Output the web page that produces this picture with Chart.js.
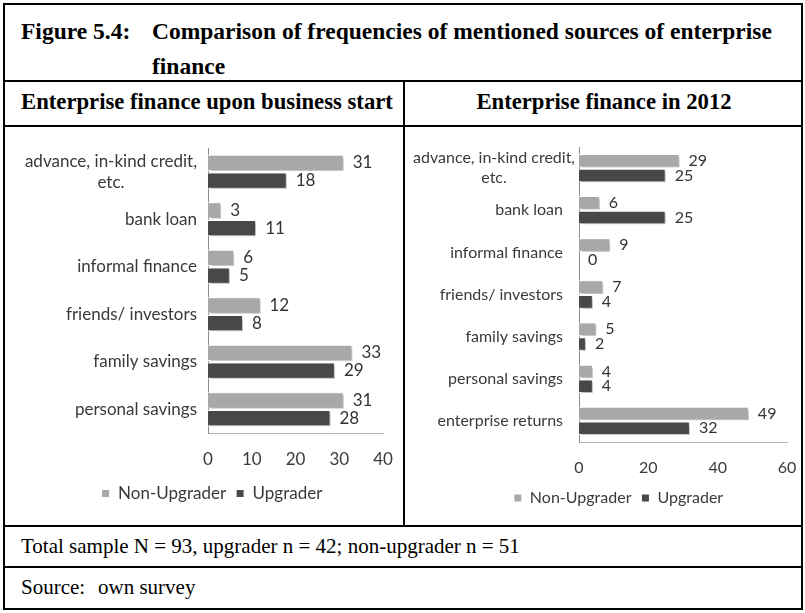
<!DOCTYPE html>
<html>
<head>
<meta charset="utf-8">
<script src="https://cdn.jsdelivr.net/npm/chart.js@4/dist/chart.umd.min.js"></script>
<style>
  body { margin: 0; background: #fff; width: 805px; height: 613px; position: relative; overflow: hidden; }
  .frame { position: absolute; left: 3px; top: 3px; width: 800px; height: 607px; border: 2px solid #000; box-sizing: border-box; }
  .hl { position: absolute; left: 3px; width: 800px; height: 2px; background: #000; }
  .vl { position: absolute; width: 2px; background: #000; }
  .serif { position: absolute; font-family: "Liberation Serif", "Times New Roman", serif; color: #000; white-space: nowrap; line-height: 1.15; }
  .bold { font-weight: bold; }
  .box { position: absolute; }
</style>
</head>
<body>
<div class="frame"></div>
<div class="hl" style="top:80px"></div>
<div class="hl" style="top:125px"></div>
<div class="hl" style="top:525px"></div>
<div class="hl" style="top:566px"></div>
<div class="vl" style="left:403px; top:80px; height:446px"></div>

<div class="serif bold" style="left:21px; top:18px; font-size:23.5px">Figure 5.4:</div>
<div class="serif bold" style="left:152px; top:14px; font-size:23.5px; line-height:35px">Comparison of frequencies of mentioned sources of enterprise<br>finance</div>

<div class="serif bold" style="left:21px; top:89px; font-size:22.7px">Enterprise finance upon business start</div>
<div class="serif bold" style="left:405px; width:398px; text-align:center; top:89px; font-size:22.7px">Enterprise finance in 2012</div>

<div class="serif" style="left:21px; top:534px; font-size:21px">Total sample N = 93, upgrader n = 42; non-upgrader n = 51</div>
<div class="serif" style="left:21px; top:575px; font-size:21px">Source:</div>
<div class="serif" style="left:98px; top:575px; font-size:21px">own survey</div>

<div class="box" style="left:5px; top:127px; width:398px; height:397px"><canvas id="chartStart"></canvas></div>
<div class="box" style="left:406px; top:127px; width:395px; height:397px"><canvas id="chart2012"></canvas></div>

<script>
// Enterprise finance upon business start
const catsStart = [['advance, in-kind credit,', 'etc.'], 'bank loan', 'informal finance', 'friends/ investors', 'family savings', 'personal savings'];
const nonUpStart = [31, 3, 6, 12, 33, 31];
const upStart = [18, 11, 5, 8, 29, 28];
const ticksStart = [0, 10, 20, 30, 40];

// Enterprise finance in 2012
const cats2012 = [['advance, in-kind credit,', 'etc.'], 'bank loan', 'informal finance', 'friends/ investors', 'family savings', 'personal savings', 'enterprise returns'];
const nonUp2012 = [29, 6, 9, 7, 5, 4, 49];
const up2012 = [25, 25, 0, 4, 2, 4, 32];
const ticks2012 = [0, 20, 40, 60];

const seriesNames = ['Non-Upgrader', 'Upgrader'];
const seriesColors = ['#a8a8a8', '#484848'];

const textColor = '#3a3a3a';

// soft shadow under the bars + value labels at the bar ends
const barExtras = {
    id: 'barExtras',
    beforeDatasetsDraw(chart) {
        const ctx = chart.ctx;
        ctx.save();
        ctx.shadowColor = 'rgba(0,0,0,0.3)';
        ctx.shadowBlur = 3;
        ctx.shadowOffsetX = 2;
        ctx.shadowOffsetY = 2;
    },
    afterDatasetsDraw(chart, args, opts) {
        const ctx = chart.ctx;
        ctx.restore();
        ctx.save();
        ctx.font = opts.size + 'px Lato';
        ctx.fillStyle = '#333';
        ctx.textBaseline = 'middle';
        chart.data.datasets.forEach((ds, i) => {
            chart.getDatasetMeta(i).data.forEach((bar, j) => {
                ctx.fillText(ds.data[j], bar.x + 9, bar.y);
            });
        });
        ctx.restore();
    }
};

// category names, each line centred inside its block (like Excel)
const categoryLabels = {
    id: 'categoryLabels',
    afterDraw(chart, args, opts) {
        const ctx = chart.ctx;
        const yScale = chart.scales.y;
        const axisX = chart.chartArea.left;
        const lh = opts.size + 4;
        ctx.save();
        ctx.font = opts.size + 'px Lato';
        ctx.textAlign = 'center';
        ctx.textBaseline = 'middle';
        chart.data.labels.forEach((lab, i) => {
            const lines = [].concat(lab);
            const w = Math.max(...lines.map(l => ctx.measureText(l).width));
            const gap = (i === 0 && opts.firstGap != null) ? opts.firstGap : opts.gap;
            const right = axisX - gap;
            const top = yScale.getPixelForTick(i) - (lines.length - 1) * lh / 2;
            if (i === 0 && opts.backdrop) {
                ctx.fillStyle = '#fff';
                ctx.fillRect(right - w - 2, top - lh / 2, w + 4, lines.length * lh);
            }
            ctx.fillStyle = textColor;
            lines.forEach((l, k) => ctx.fillText(l, right - w / 2, top + k * lh));
        });
        ctx.restore();
    }
};

function gerarGrafico(id, cats, nonUp, up, ticks, o) {
    const ctx = document.getElementById(id);
    const font = { family: 'Lato', size: o.fs };
    return new Chart(ctx, {
        type: 'bar',
        data: {
            labels: cats,
            datasets: [
                { label: seriesNames[0], data: nonUp, backgroundColor: seriesColors[0], borderColor: '#fff', borderWidth: 1 },
                { label: seriesNames[1], data: up, backgroundColor: seriesColors[1], borderColor: '#fff', borderWidth: 1 }
            ]
        },
        options: {
            indexAxis: 'y',
            responsive: true,
            maintainAspectRatio: false,
            animation: false,
            datasets: { bar: { categoryPercentage: o.catPct, barPercentage: 0.92 } },
            layout: { padding: { top: o.top, right: o.right, bottom: o.bottom, left: o.left } },
            scales: {
                x: {
                    min: ticks[0],
                    max: ticks[ticks.length - 1],
                    ticks: { stepSize: ticks[1] - ticks[0], color: textColor, font: font, padding: o.tickPad },
                    grid: { display: false, drawTicks: false },
                    border: { color: '#b5b5b5' },
                    afterFit: s => { s.height = o.xh; s.paddingLeft = 0; s.paddingRight = 0; }
                },
                y: {
                    ticks: { display: false },
                    grid: { display: false, drawTicks: false },
                    border: { color: '#8c8c8c' },
                    afterFit: s => { s.width = o.yw; }
                }
            },
            plugins: {
                legend: {
                    position: 'bottom',
                    labels: { boxWidth: 8, boxHeight: 8, color: textColor, font: font, padding: 10 }
                },
                tooltip: { enabled: false },
                barExtras: { size: o.fs },
                categoryLabels: { size: o.fs, gap: o.gap, firstGap: o.firstGap, backdrop: o.backdrop }
            }
        },
        plugins: [barExtras, categoryLabels]
    });
}

gerarGrafico('chartStart', catsStart, nonUpStart, upStart, ticksStart,
    { fs: 17, top: 21, right: 20, bottom: 12, left: 36, xh: 42, yw: 167, tickPad: 16, catPct: 0.75, gap: 11 });
gerarGrafico('chart2012', cats2012, nonUp2012, up2012, ticks2012,
    { fs: 16, top: 20, right: 14, bottom: 8, left: 44, xh: 38, yw: 129, tickPad: 16, catPct: 0.7, gap: 16, firstGap: 4, backdrop: true });
</script>
</body>
</html>
